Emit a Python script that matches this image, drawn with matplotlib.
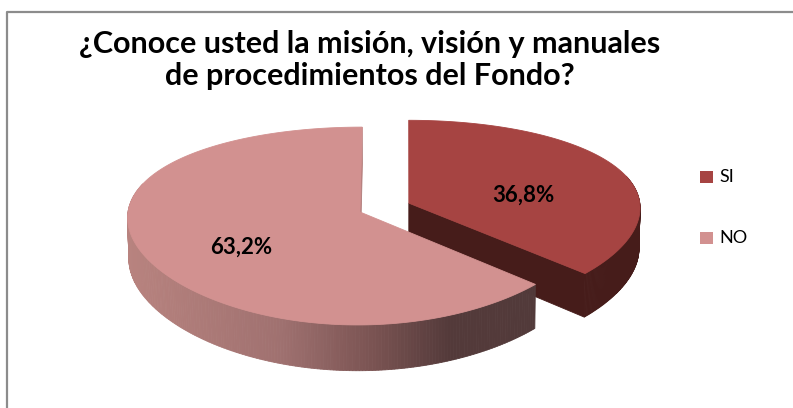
import numpy as np
import matplotlib
matplotlib.use("Agg")
import matplotlib.pyplot as plt
from matplotlib.patches import Polygon

# ---- data ----
title = "¿Conoce usted la misión, visión y manuales\nde procedimientos del Fondo?"
categories = ["SI", "NO"]
values = [36.8, 63.2]
labels = ["36,8%", "63,2%"]
top_colors = ["#A64442", "#D29190"]
explode = [0.23, 0.0]

# ---- 3D projection parameters ----
W, H = 793, 408
elev = np.deg2rad(24.7)
D = 6.41
F = 1487.0
Xc = 0.2
kx = 0.35
x0, y0 = 406.4, 212.0
h = 0.196
ce, se = np.cos(elev), np.sin(elev)


def proj(X, Y, Z):
    X = np.asarray(X, float); Y = np.asarray(Y, float); Z = np.asarray(Z, float)
    u = X - Xc
    v = Z * ce + Y * se
    w = D + Y * ce - Z * se
    wx = D + kx * (Y * ce - Z * se)
    return x0 + F * u / wx, y0 - F * v / w


def hex2rgb(c):
    c = c.lstrip('#')
    return np.array([int(c[i:i + 2], 16) for i in (0, 2, 4)]) / 255.0


# side gradient for the NO slice (by screen x)
no_side_x = [128, 280, 380, 450, 800]
no_side_c = [hex2rgb(c) for c in ["#B8837F", "#A07170", "#775150", "#533A3A", "#503838"]]


def no_side_color(x):
    return tuple(np.interp(x, no_side_x, [c[i] for c in no_side_c]) for i in range(3))


si_side = "#461C1A"
no_cut = "#B27C7A"

fig = plt.figure(figsize=(W / 100, H / 100), dpi=100)
ax = fig.add_axes([0, 0, 1, 1])
ax.set_xlim(0, W)
ax.set_ylim(H, 0)
ax.axis("off")

# chart border
ax.plot([7, 7, W + 5], [H + 5, 12, 12], color="#8C8C8C", lw=1.6, solid_capstyle="butt")

total = sum(values)
start = 90.0
slices = []
for i, v in enumerate(values):
    end = start - 360.0 * v / total
    mid = np.deg2rad((start + end) / 2)
    cx, cy = explode[i] * np.cos(mid), explode[i] * np.sin(mid)
    slices.append((start, end, cx, cy, mid))
    start = end

# visible cut faces: SI at its end angle, NO at its end angle (12 o'clock)
for i in [0, 1]:
    a0, a1, cx, cy, mid = slices[i]
    t = np.deg2rad(np.linspace(a0, a1, 300))
    rx = cx + np.cos(t)
    ry = cy + np.sin(t)
    xt, yt = proj(rx, ry, 0 * rx)
    xb, yb = proj(rx, ry, 0 * rx - h)
    order = np.argsort(-ry[:-1])
    for k in order:
        if np.sin(t[k]) > 0.3:
            continue
        quad = [(xt[k], yt[k]), (xt[k + 1], yt[k + 1]), (xb[k + 1], yb[k + 1]), (xb[k], yb[k])]
        col = si_side if i == 0 else no_side_color((xt[k] + xt[k + 1]) / 2)
        ax.add_patch(Polygon(quad, closed=True, facecolor=col, edgecolor=col, lw=0.6))
    # the cut face at the slice's end angle faces the viewer
    ta = np.deg2rad(a1)
    col = si_side if i == 0 else no_cut
    px = [cx, cx + np.cos(ta), cx + np.cos(ta), cx]
    py = [cy, cy + np.sin(ta), cy + np.sin(ta), cy]
    pz = [0, 0, -h, -h]
    sx, sy = proj(px, py, pz)
    ax.add_patch(Polygon(list(zip(sx, sy)), closed=True, facecolor=col, edgecolor=col, lw=0.6))
    # top face
    tx, ty = proj(np.r_[cx, rx], np.r_[cy, ry], np.zeros(len(rx) + 1))
    ax.add_patch(Polygon(list(zip(tx, ty)), closed=True, facecolor=top_colors[i],
                         edgecolor=top_colors[i], lw=0.6))

# data labels
for i in range(2):
    a0, a1, cx, cy, mid = slices[i]
    lx, ly = proj(cx + 0.55 * np.cos(mid), cy + 0.55 * np.sin(mid), -0.06)
    ax.text(lx, ly, labels[i], ha="center", va="center", fontsize=16,
            fontweight="bold", family="Lato", color="#000000")

# title
ax.text(370, 60, title, ha="center", va="center", fontsize=22, fontweight="bold",
        family="Lato", color="#000000", linespacing=1.15)

# legend
leg_y = [177, 238]
for i in range(2):
    ax.add_patch(Polygon([(700, leg_y[i] - 6), (713, leg_y[i] - 6), (713, leg_y[i] + 6), (700, leg_y[i] + 6)],
                         closed=True, facecolor=top_colors[i], edgecolor="none"))
    ax.text(719, leg_y[i], categories[i], ha="left", va="center", fontsize=13,
            family="Lato", color="#000000")

fig.savefig("out.png", dpi=100)
